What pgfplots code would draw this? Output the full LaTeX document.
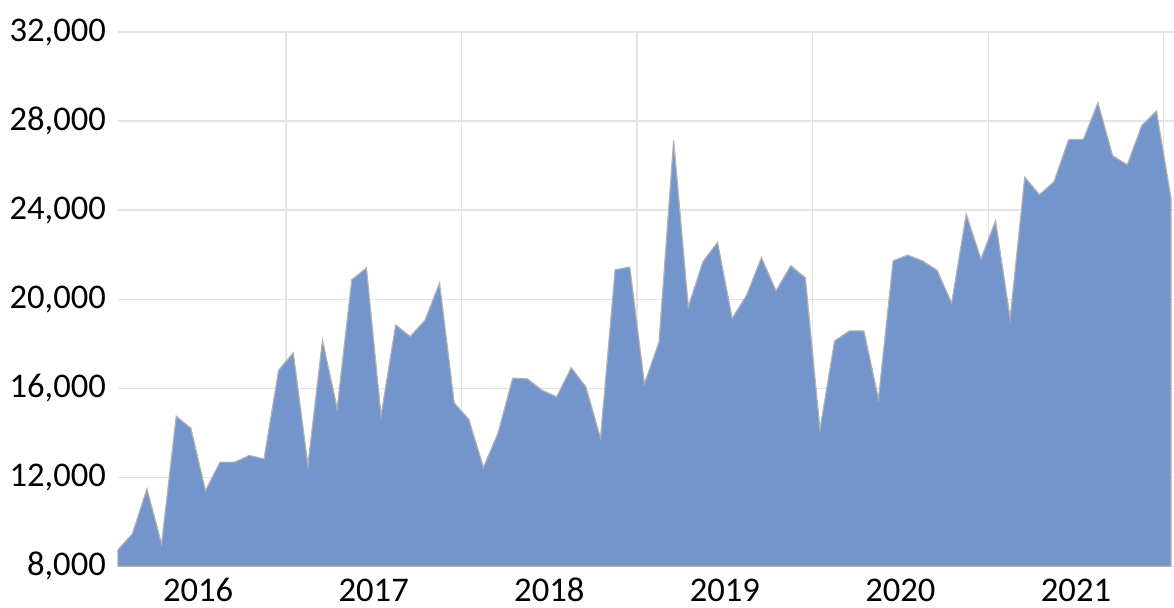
\documentclass[border=0pt]{standalone}
\usepackage{pgfplots}
\pgfplotsset{compat=1.18}
\usepackage{fontspec}
\setmainfont{Carlito}
\definecolor{areablue}{HTML}{7395CB}
\definecolor{gridgray}{HTML}{E4E4E4}
\begin{document}
\begin{tikzpicture}
\begin{axis}[
  scale only axis,
  width=528.15pt, height=267.15pt,
  xmin=0, xmax=72.2,
  ymin=8000, ymax=32000,
  ytick={8000,12000,...,32000},
  xtick={5.5,17.5,29.5,41.5,53.5,65.5},
  xticklabels={2016,2017,2018,2019,2020,2021},
  minor xtick={11.5,23.5,35.5,47.5,59.5,71.5},
  xminorgrids=true, xmajorgrids=false,
  ymajorgrids=true,
  grid style={gridgray, line width=0.6pt},
  minor grid style={gridgray, line width=0.6pt},
  axis line style={draw=none},
  major tick length=0pt, minor tick length=0pt,
  tick label style={font=\fontsize{17.3}{20}\selectfont, text=black},
  /pgf/number format/assume math mode=true,
  /pgf/number format/1000 sep={,},
  scaled y ticks=false,
  yticklabel style={xshift=-2.4pt},
  xticklabel style={anchor=base, yshift=-17.6pt},
  clip=true,
]
\addplot[fill=areablue, draw=gray!60, line width=0.6pt] coordinates {
(0,8730) (1,9450) (2,11480) (3,9000) (4,14740) (5,14200) (6,11400) (7,12680)
(8,12680) (9,12980) (10,12820) (11,16810) (12,17590) (13,12550) (14,18150)
(15,15090) (16,20870) (17,21400) (18,14770) (19,18840) (20,18320) (21,19050)
(22,20720) (23,15340) (24,14600) (25,12440) (26,13990) (27,16450) (28,16420)
(29,15910) (30,15610) (31,16920) (32,16060) (33,13750) (34,21320) (35,21440)
(36,16200) (37,18070) (38,27130) (39,19650) (40,21680) (41,22550) (42,19130)
(43,20190) (44,21870) (45,20370) (46,21500) (47,20960) (48,14140) (49,18120)
(50,18570) (51,18570) (52,15520) (53,21720) (54,21980) (55,21720) (56,21300)
(57,19820) (58,23820) (59,21800) (60,23520) (61,19130) (62,25480) (63,24690)
(64,25280) (65,27170) (66,27170) (67,28820) (68,26450) (69,26030) (70,27800)
(71,28450) (72,24500)
} \closedcycle;
\end{axis}
\pgfresetboundingbox
\path ([shift={(-58.85pt,-20.85pt)}]current axis.south west) rectangle ([shift={(0pt,16pt)}]current axis.north east);
\end{tikzpicture}
\end{document}
